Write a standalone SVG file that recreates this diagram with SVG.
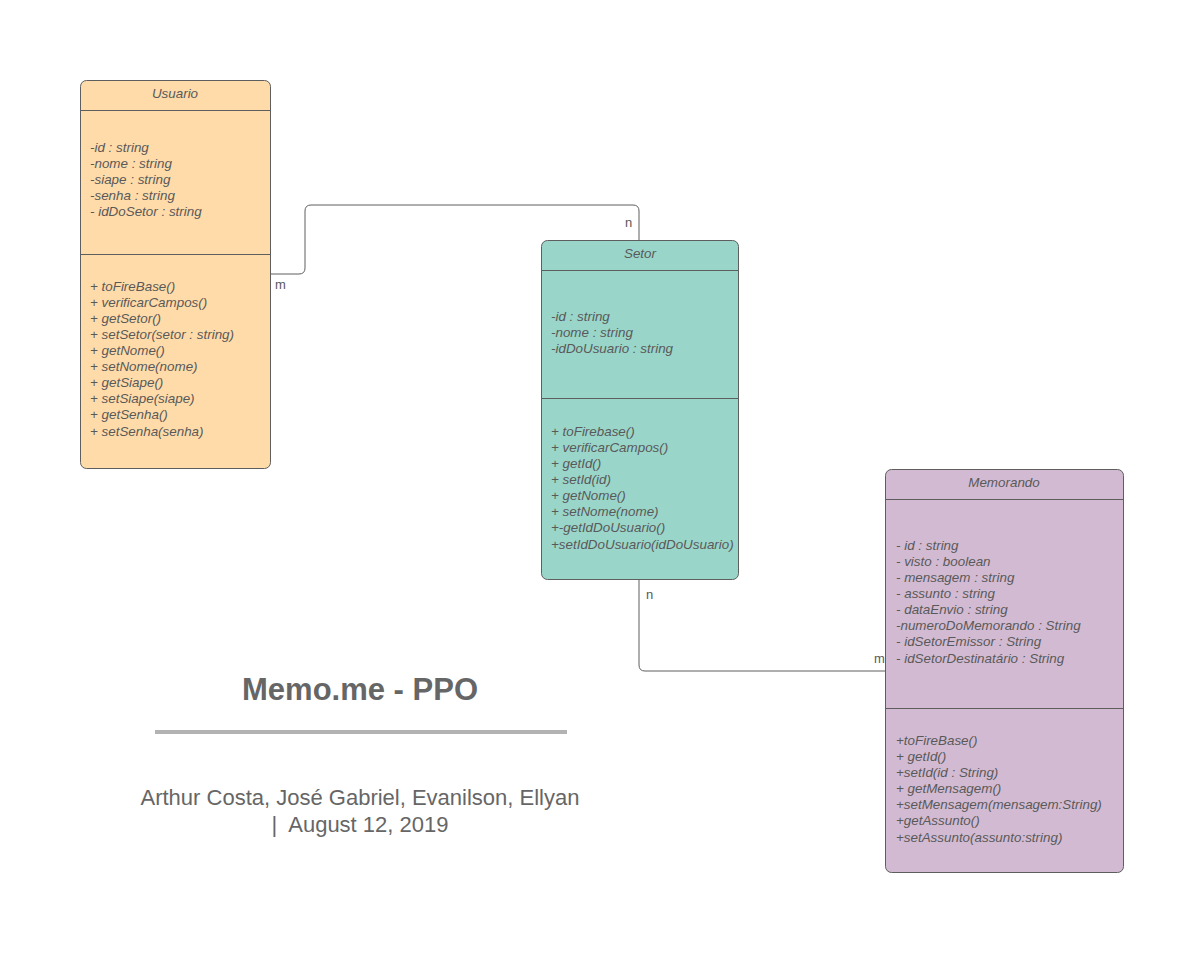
<svg xmlns="http://www.w3.org/2000/svg" width="1203" height="960" viewBox="0 0 1203 960">
<style>
.box{stroke:#5e5e5e;stroke-width:1}
.sep{stroke:#5e5e5e;stroke-width:1}
.t{font-family:"Liberation Sans",Arial,sans-serif;font-size:13.4px;font-style:italic;fill:#595959}
.h{text-anchor:middle}
.lbl{font-family:"Liberation Sans",Arial,sans-serif;font-size:13px;fill:#595959}
.conn{fill:none;stroke:#5e5e5e;stroke-width:1}
</style>
<rect width="1203" height="960" fill="#ffffff"/>
<g id="connectors">
<path class="conn" d="M270,274 H299 Q305,274 305,268 V211 Q305,205 311,205 H633 Q639,205 639,211 V240"/>
<path class="conn" d="M639,580 V665 Q639,671 645,671 H885"/>
<text class="lbl" x="275" y="289">m</text>
<text class="lbl" x="625" y="227">n</text>
<text class="lbl" x="646" y="599">n</text>
<text class="lbl" x="874" y="663">m</text>
</g>
<g id="usuario">
<rect class="box" x="80.5" y="80.5" width="190" height="388" rx="6" fill="#ffdba9"/>
<line class="sep" x1="80.5" y1="110.5" x2="270.5" y2="110.5"/>
<line class="sep" x1="80.5" y1="254.5" x2="270.5" y2="254.5"/>
<text class="t h" x="175" y="98">Usuario</text>
<text class="t" x="90" y="152">-id : string</text>
<text class="t" x="90" y="168">-nome : string</text>
<text class="t" x="90" y="184">-siape : string</text>
<text class="t" x="90" y="200">-senha : string</text>
<text class="t" x="90" y="216">- idDoSetor : string</text>
<text class="t" x="90" y="291">+ toFireBase()</text>
<text class="t" x="90" y="307">+ verificarCampos()</text>
<text class="t" x="90" y="323">+ getSetor()</text>
<text class="t" x="90" y="339">+ setSetor(setor : string)</text>
<text class="t" x="90" y="355">+ getNome()</text>
<text class="t" x="90" y="371">+ setNome(nome)</text>
<text class="t" x="90" y="387">+ getSiape()</text>
<text class="t" x="90" y="403">+ setSiape(siape)</text>
<text class="t" x="90" y="419">+ getSenha()</text>
<text class="t" x="90" y="436">+ setSenha(senha)</text>
</g>
<g id="setor">
<rect class="box" x="541.5" y="240.5" width="197" height="339" rx="6" fill="#9ad5ca"/>
<line class="sep" x1="541.5" y1="270.5" x2="738.5" y2="270.5"/>
<line class="sep" x1="541.5" y1="398.5" x2="738.5" y2="398.5"/>
<text class="t h" x="640" y="258">Setor</text>
<text class="t" x="551" y="321">-id : string</text>
<text class="t" x="551" y="337">-nome : string</text>
<text class="t" x="551" y="353">-idDoUsuario : string</text>
<text class="t" x="551" y="436">+ toFirebase()</text>
<text class="t" x="551" y="452">+ verificarCampos()</text>
<text class="t" x="551" y="468">+ getId()</text>
<text class="t" x="551" y="484">+ setId(id)</text>
<text class="t" x="551" y="500">+ getNome()</text>
<text class="t" x="551" y="516">+ setNome(nome)</text>
<text class="t" x="551" y="532">+-getIdDoUsuario()</text>
<text class="t" x="551" y="549">+setIdDoUsuario(idDoUsuario)</text>
</g>
<g id="memorando">
<rect class="box" x="885.5" y="469.5" width="238" height="403" rx="6" fill="#d2bbd2"/>
<line class="sep" x1="885.5" y1="499.5" x2="1123.5" y2="499.5"/>
<line class="sep" x1="885.5" y1="708.5" x2="1123.5" y2="708.5"/>
<text class="t h" x="1004" y="487">Memorando</text>
<text class="t" x="896" y="550">- id : string</text>
<text class="t" x="896" y="566">- visto : boolean</text>
<text class="t" x="896" y="582">- mensagem : string</text>
<text class="t" x="896" y="598">- assunto : string</text>
<text class="t" x="896" y="614">- dataEnvio : string</text>
<text class="t" x="896" y="630">-numeroDoMemorando : String</text>
<text class="t" x="896" y="646">- idSetorEmissor : String</text>
<text class="t" x="896" y="663">- idSetorDestinatário : String</text>
<text class="t" x="896" y="745">+toFireBase()</text>
<text class="t" x="896" y="761">+ getId()</text>
<text class="t" x="896" y="777">+setId(id : String)</text>
<text class="t" x="896" y="793">+ getMensagem()</text>
<text class="t" x="896" y="809">+setMensagem(mensagem:String)</text>
<text class="t" x="896" y="825">+getAssunto()</text>
<text class="t" x="896" y="842">+setAssunto(assunto:string)</text>
</g>
<g id="title">
<text x="360" y="700" text-anchor="middle" font-family="'Liberation Sans',Arial,sans-serif" font-size="31" font-weight="bold" fill="#666666">Memo.me - PPO</text>
<line x1="155" y1="732" x2="567" y2="732" stroke="#b3b3b3" stroke-width="4"/>
<text x="360" y="805" text-anchor="middle" font-family="'Liberation Sans',Arial,sans-serif" font-size="22" fill="#666666">Arthur Costa, José Gabriel, Evanilson, Ellyan</text>
<text x="360" y="832" text-anchor="middle" font-family="'Liberation Sans',Arial,sans-serif" font-size="22" fill="#666666" style="white-space:pre">|  August 12, 2019</text>
</g>
</svg>
